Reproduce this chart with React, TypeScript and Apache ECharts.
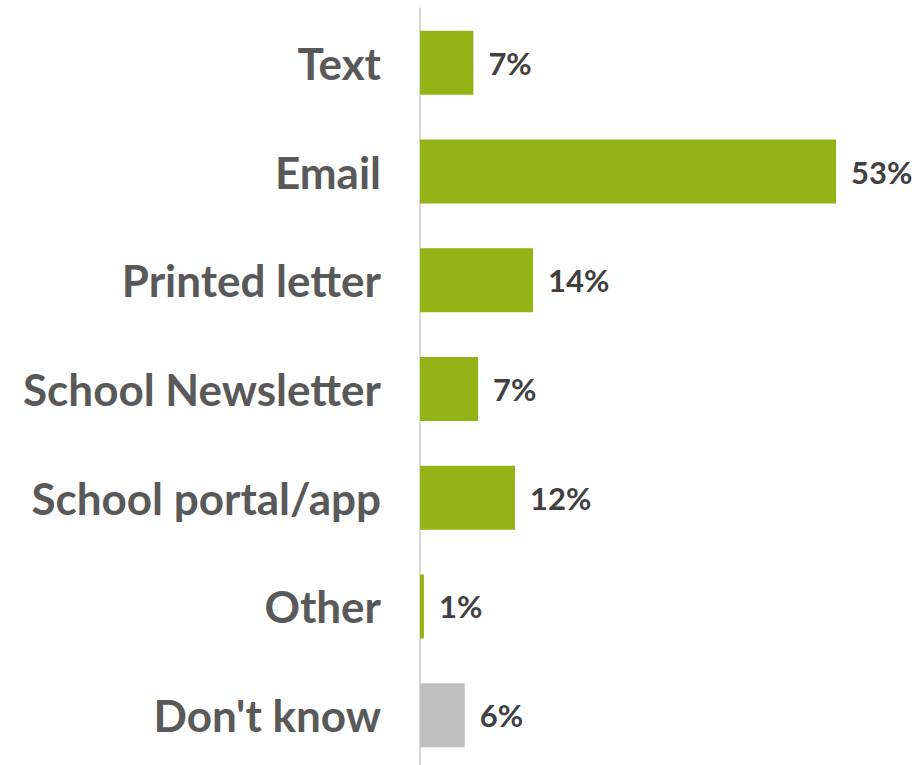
import React, { useEffect, useRef } from "react";
import * as echarts from "echarts";

const categories = ["Text", "Email", "Printed letter", "School Newsletter", "School portal/app", "Other", "Don't know"];
const values = [6.8, 53, 14.4, 7.4, 12.1, 0.5, 5.7];
const barColors = ["#93B316", "#93B316", "#93B316", "#93B316", "#93B316", "#93B316", "#BFBFBF"];

export default function App() {
  const ref = useRef<HTMLDivElement>(null);
  useEffect(() => {
    const chart = echarts.init(ref.current!, null, { renderer: "svg" });
    chart.setOption({
      animation: false,
      grid: { left: 420, top: 8.5, height: 761, width: 471, outerBoundsMode: "none" },
      xAxis: {
        type: "value",
        min: 0,
        max: 60,
        show: false,
      },
      yAxis: {
        type: "category",
        data: categories,
        inverse: true,
        axisLine: { show: true, lineStyle: { color: "#D9D9D9", width: 2 } },
        axisTick: { show: false },
        axisLabel: {
          fontFamily: "Lato",
          fontWeight: "bold",
          fontSize: 44,
          color: "#595959",
          margin: 39,
        },
      },
      series: [
        {
          type: "bar",
          barWidth: 64,
          data: values.map((v, i) => ({ value: v, itemStyle: { color: barColors[i] } })),
          label: {
            show: true,
            position: "right",
            distance: 15,
            fontFamily: "Lato",
            fontWeight: "bold",
            fontSize: 31,
            color: "#404040",
            formatter: (p: any) => Math.round(p.value) + "%",
          },
        },
      ],
    });
    return () => chart.dispose();
  }, []);
  return <div ref={ref} style={{ position: "absolute", left: 0, top: 0, width: 922, height: 765 }} />;
}
